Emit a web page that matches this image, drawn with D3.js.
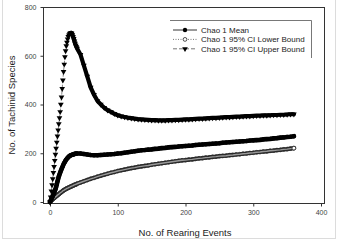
<!DOCTYPE html>
<html>
<head>
<meta charset="utf-8">
<script src="https://cdn.jsdelivr.net/npm/d3@7"></script>
<style>
  body { margin: 0; background: #fff; }
  svg { display: block; font-family: "Liberation Sans", Arial, sans-serif; }
</style>
</head>
<body>
<svg id="chart" width="337" height="243"></svg>
<script>
// rearing events (x) — every event early on, then every 5th
const events = [0, 1, 2, 3, 4, 5, 6, 7, 8, 9, 10, 11, 12, 13, 14, 15, 16, 17, 18, 19, 20,
  21, 22, 23, 24, 25, 26, 27, 28, 29, 30, 31, 32, 33, 34, 35, 36, 37, 38, 39, 40,
  45, 50, 55, 60, 65, 70, 75, 80, 85, 90, 95, 100, 105, 110, 115, 120, 125, 130, 135, 140,
  145, 150, 155, 160, 165, 170, 175, 180, 185, 190, 195, 200, 205, 210, 215, 220, 225, 230,
  235, 240, 245, 250, 255, 260, 265, 270, 275, 280, 285, 290, 295, 300, 305, 310, 315, 320,
  325, 330, 335, 340, 345, 350, 355, 360];

const chaoMean = [0, 6, 12, 18, 24, 30, 37, 44, 52, 62, 72, 84, 95, 105, 113, 120, 128, 135, 142, 148, 155,
  160, 165, 170, 174, 178, 181, 184, 187, 189, 191, 192, 193, 194, 195, 196, 197, 198, 198, 199, 199,
  199, 197, 195, 193, 192, 192, 193, 194, 195, 196, 197, 199, 200, 202, 204, 206, 208, 210, 212, 213,
  215, 216, 218, 219, 221, 222, 224, 225, 226, 228, 229, 230, 231, 232, 234, 235, 236, 237,
  238, 239, 240, 241, 243, 244, 245, 246, 247, 248, 249, 250, 252, 253, 254, 255, 257, 258,
  259, 261, 262, 264, 265, 267, 268, 270];

const chaoLower = [0, 3, 6, 9, 11, 14, 16, 18, 21, 23, 25, 28, 30, 32, 35, 37, 39, 41, 43, 46, 48,
  49, 51, 53, 54, 56, 57, 58, 60, 61, 62, 64, 65, 66, 67, 69, 70, 71, 72, 73, 75,
  80, 85, 90, 95, 99, 104, 108, 112, 116, 120, 123, 127, 130, 133, 136, 139, 141, 144, 146, 148,
  150, 153, 155, 157, 159, 161, 163, 165, 167, 169, 171, 172, 174, 175, 177, 179, 180, 182,
  183, 185, 186, 188, 189, 190, 192, 193, 195, 196, 198, 199, 201, 202, 204, 205, 207, 208,
  210, 211, 213, 214, 216, 217, 219, 221];

const chaoUpper = [0, 20, 45, 70, 95, 120, 145, 170, 195, 220, 245, 270, 295, 320, 345, 370, 400, 430, 465, 500, 535,
  565, 595, 620, 640, 655, 668, 678, 685, 690, 693, 694, 692, 686, 678, 670, 660, 651, 643, 636, 630,
  605, 560, 515, 470, 440, 415, 400, 387, 377, 370, 362, 356, 352, 349, 346, 344, 342, 340, 339, 338,
  337, 336, 336, 335, 335, 335, 336, 336, 337, 337, 338, 339, 339, 340, 341, 342, 342, 343,
  344, 345, 345, 346, 347, 348, 348, 349, 350, 350, 351, 352, 352, 353, 354, 354, 355, 355,
  356, 357, 357, 358, 358, 359, 360, 360];

const xTicks = [0, 100, 200, 300, 400];
const yTicks = [0, 200, 400, 600, 800];
const seriesNames = ["Chao 1 Mean", "Chao 1 95% CI Lower Bound", "Chao 1 95% CI Upper Bound"];

const svg = d3.select("#chart");

// plot frame (SigmaPlot style: axes offset from the data origin)
const frame = { left: 43, right: 324, top: 7, bottom: 203 };

const x = d3.scaleLinear().domain([0, 400]).range([50, 321]);
const y = d3.scaleLinear().domain([0, 800]).range([202, 7]);

// faint outer border of the figure
svg.append("rect")
  .attr("x", 2.5).attr("y", -5)
  .attr("width", 333).attr("height", 243.5)
  .attr("fill", "none")
  .attr("stroke", "#dcdcdc");

// frame box
svg.append("rect")
  .attr("x", frame.left + 0.5).attr("y", frame.top + 0.5)
  .attr("width", frame.right - frame.left).attr("height", frame.bottom - frame.top)
  .attr("fill", "none")
  .attr("stroke", "#333")
  .attr("stroke-width", 1);

// X axis
const xAxis = svg.append("g")
  .attr("transform", `translate(0,${frame.bottom + 0.5})`)
  .call(d3.axisBottom(x).tickValues(xTicks).tickSize(3).tickPadding(4).tickSizeOuter(0));
xAxis.select(".domain").remove();
xAxis.selectAll("line").attr("stroke", "#333");
xAxis.selectAll("text")
  .style("font-size", "7px")
  .attr("fill", "#444");

// Y axis
const yAxis = svg.append("g")
  .attr("transform", `translate(${frame.left + 0.5},0)`)
  .call(d3.axisLeft(y).tickValues(yTicks).tickSize(3).tickPadding(4).tickSizeOuter(0));
yAxis.select(".domain").remove();
yAxis.selectAll("line").attr("stroke", "#333");
yAxis.selectAll("text")
  .style("font-size", "7px")
  .attr("fill", "#444");

// axis titles
svg.append("text")
  .attr("x", 185)
  .attr("y", 236)
  .attr("text-anchor", "middle")
  .attr("font-size", "9.5px")
  .attr("fill", "#222")
  .text("No. of Rearing Events");

svg.append("text")
  .attr("transform", "rotate(-90)")
  .attr("x", -105)
  .attr("y", 15)
  .attr("text-anchor", "middle")
  .attr("font-size", "9.5px")
  .attr("fill", "#222")
  .text("No. of Tachinid Species");

// bandFrom: index where markers start to overlap into a solid band
const series = [
  { name: seriesNames[0], values: chaoMean, dash: null, lineColor: "#000", bandFrom: 0 },
  { name: seriesNames[1], values: chaoLower, dash: "1,1.5", lineColor: "#555", bandFrom: 0 },
  { name: seriesNames[2], values: chaoUpper, dash: "4,2", lineColor: "#555", bandFrom: events.indexOf(29) }
];

const triangle = d3.symbol().type(d3.symbolTriangle).size(14);

function drawMarker(g, i, cx, cy) {
  if (i === 0) {
    g.append("circle").attr("cx", cx).attr("cy", cy).attr("r", 2.2).attr("fill", "#000");
  } else if (i === 1) {
    g.append("circle").attr("cx", cx).attr("cy", cy).attr("r", 1.9)
      .attr("fill", "#fff").attr("stroke", "#222").attr("stroke-width", 0.8);
  } else {
    g.append("path").attr("d", triangle)
      .attr("transform", `translate(${cx},${cy}) rotate(180)`)
      .attr("fill", "#000");
  }
}

const line = d3.line()
  .x(d => x(d[0]))
  .y(d => y(d[1]));

// lines and markers, upper first so mean sits on top
[2, 1, 0].forEach(i => {
  const s = series[i];
  const pts = s.values.map((v, j) => [events[j], v]);
  const g = svg.append("g");
  g.append("path")
    .datum(pts)
    .attr("d", line)
    .attr("fill", "none")
    .attr("stroke", s.lineColor)
    .attr("stroke-width", 0.7)
    .attr("stroke-dasharray", s.dash);
  pts.forEach(p => drawMarker(g, i, x(p[0]), y(p[1])));

  // markers are drawn for every event in the original, so they merge into a band
  const band = pts.slice(s.bandFrom);
  if (i === 1) {
    g.append("path").datum(band).attr("d", line)
      .attr("fill", "none").attr("stroke", "#2a2a2a").attr("stroke-width", 4.2)
      .attr("stroke-linecap", "round");
    g.append("path").datum(band).attr("d", line)
      .attr("fill", "none").attr("stroke", "#9a9a9a").attr("stroke-width", 1.4);
    const last = pts[pts.length - 1];
    drawMarker(g, i, x(last[0]), y(last[1]));
  } else {
    g.append("path").datum(band).attr("d", line)
      .attr("fill", "none").attr("stroke", "#000")
      .attr("stroke-width", i === 0 ? 4.6 : 4.2)
      .attr("stroke-linecap", "round");
  }
});

// Legend (only top and right edges show)
const legend = svg.append("g");
legend.append("path")
  .attr("d", "M170,20.5 H311.5 V58")
  .attr("fill", "none")
  .attr("stroke", "#555")
  .attr("stroke-width", 0.8);

series.forEach((s, i) => {
  const ly = 30 + i * 9.4;
  legend.append("line")
    .attr("x1", 173).attr("x2", 197)
    .attr("y1", ly).attr("y2", ly)
    .attr("stroke", s.lineColor)
    .attr("stroke-width", 0.8)
    .attr("stroke-dasharray", s.dash);
  drawMarker(legend, i, 185, ly);
  legend.append("text")
    .attr("x", 201)
    .attr("y", ly + 3)
    .attr("font-size", "8px")
    .attr("fill", "#222")
    .text(s.name);
});
</script>
</body>
</html>
